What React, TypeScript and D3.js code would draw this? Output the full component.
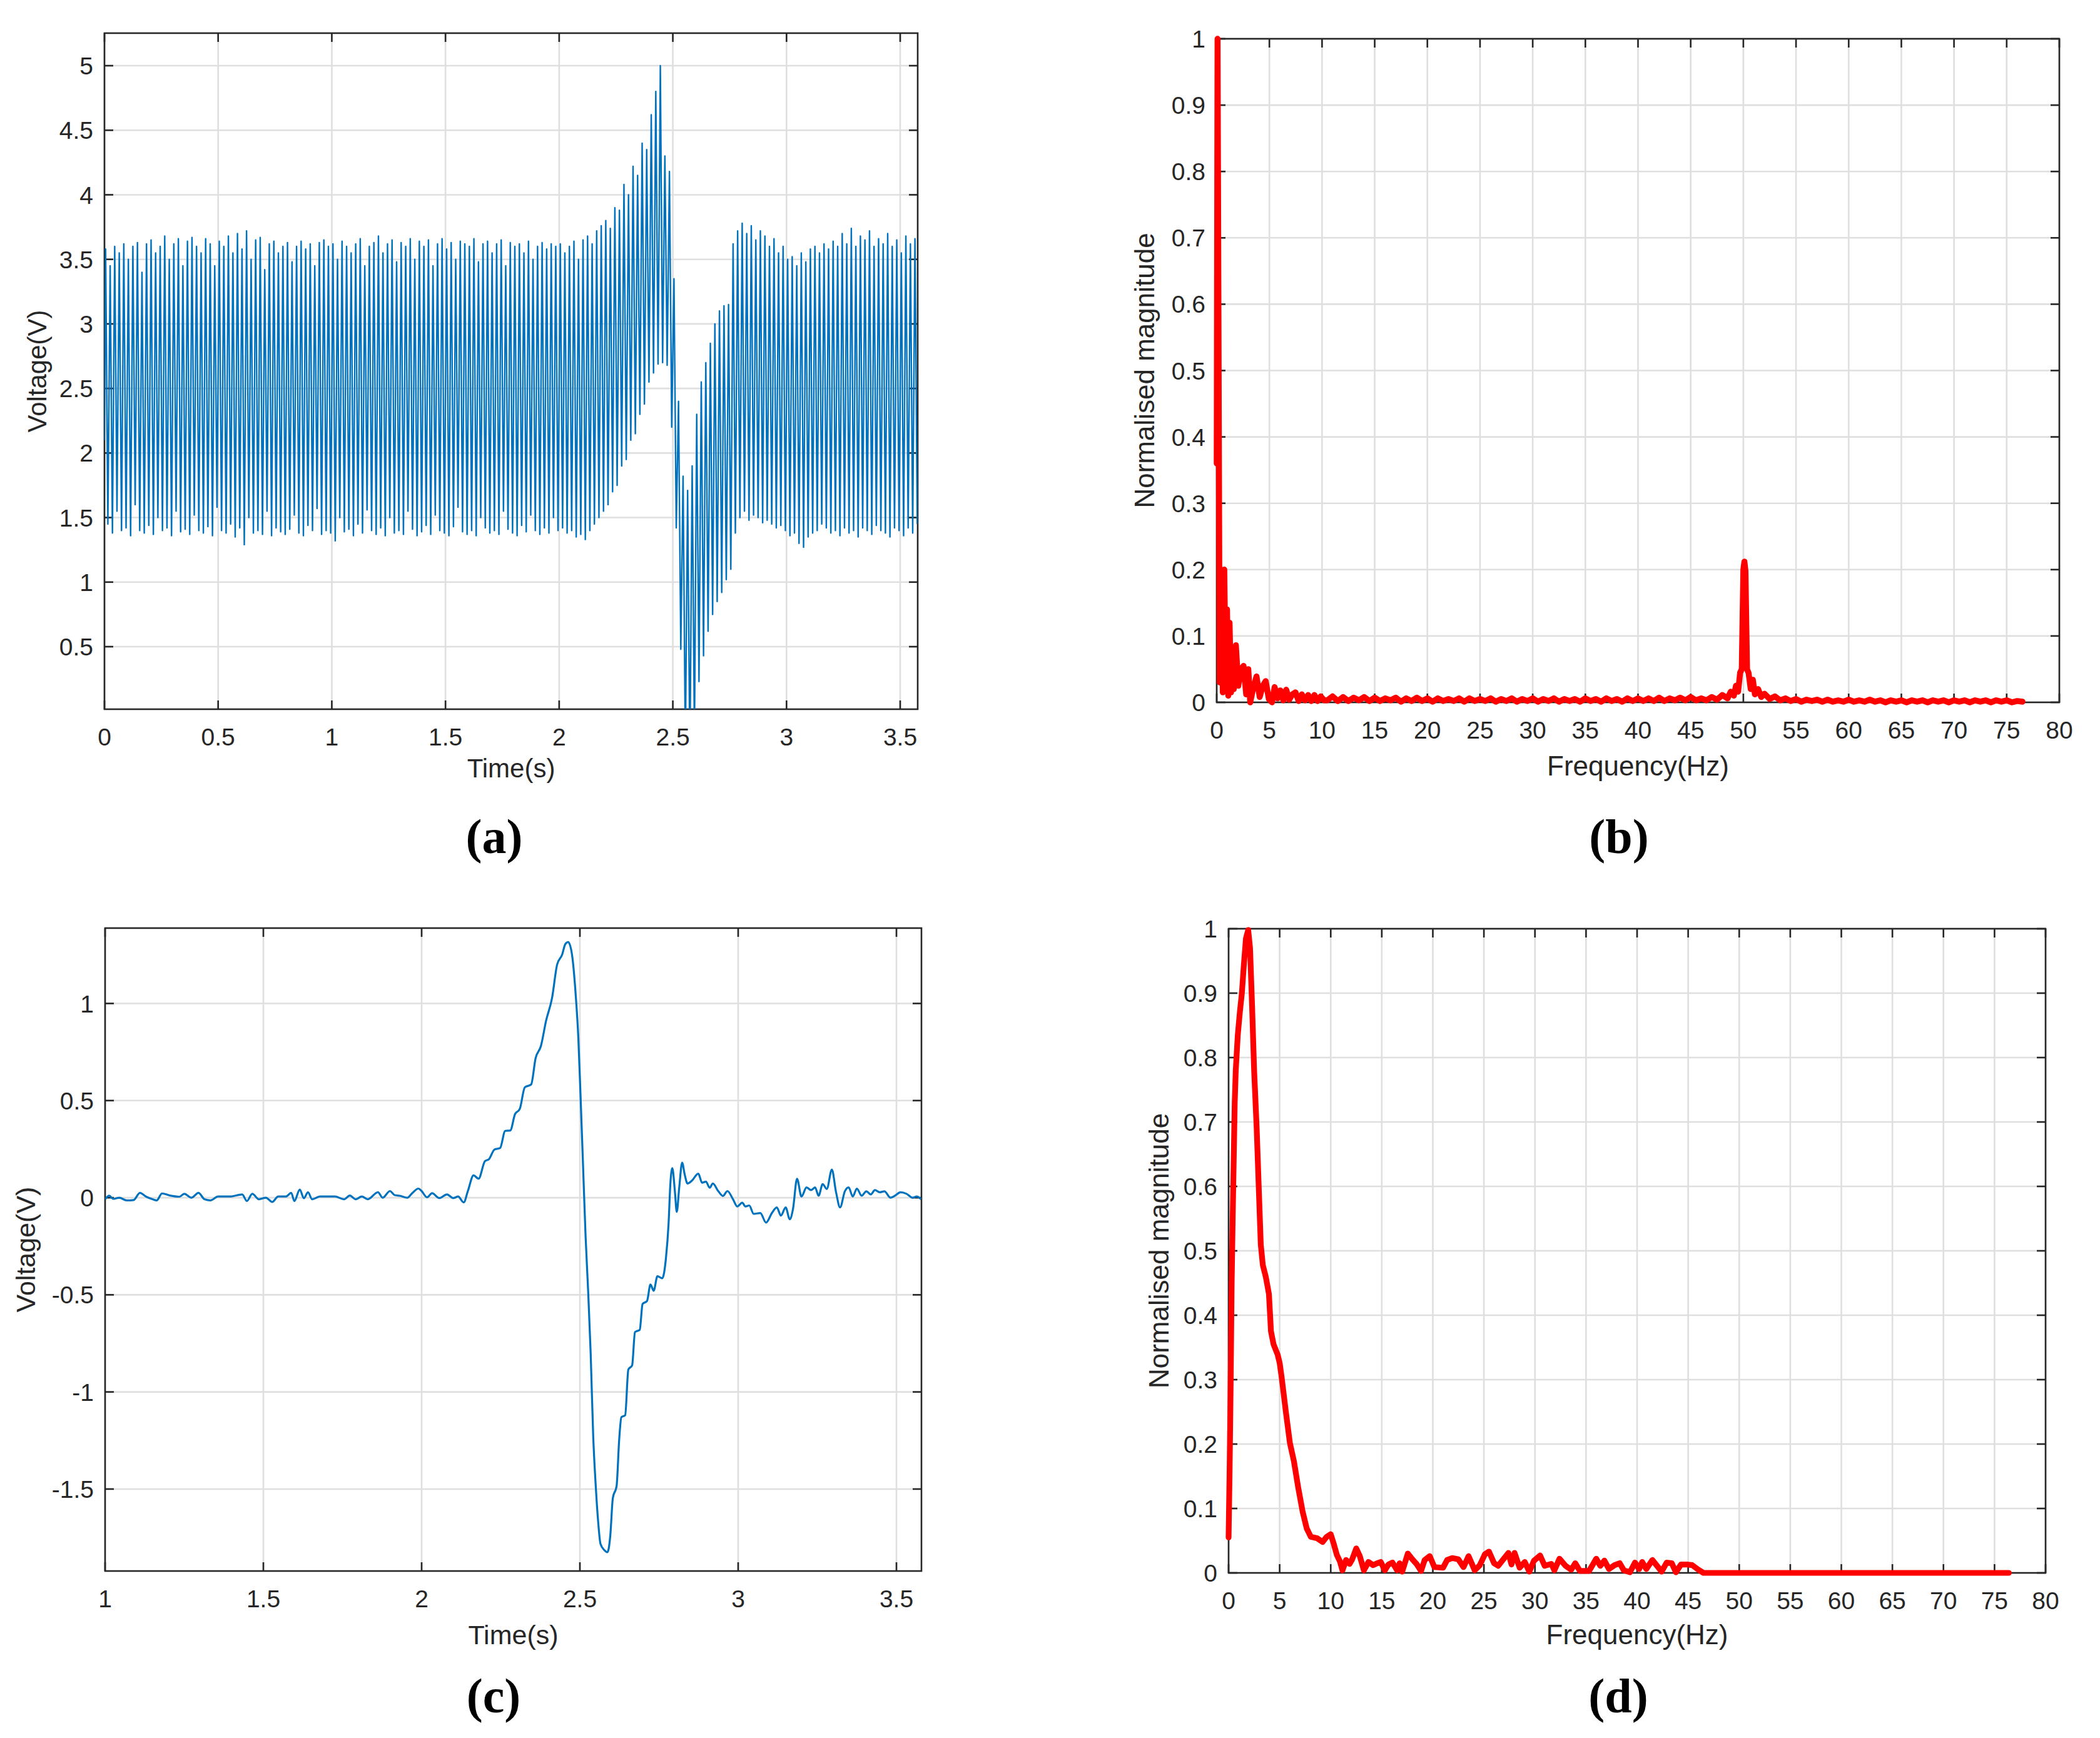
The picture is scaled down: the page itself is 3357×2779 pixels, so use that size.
import React from 'react';
import * as d3 from 'd3';

const W = 3357;
const H = 2779;
const FONT = '"Liberation Sans", Arial, Helvetica, sans-serif';
const SERIF = '"Liberation Serif", "Times New Roman", serif';
const INK = '#262626';
const GRID = '#dfdfdf';
const BLUE = '#0072bd';
const RED = '#ff0000';

// (a) raw signal, read as one peak and one trough per 50 Hz cycle
const aPeriod = 0.02;
const aStart = 2.1;
const aUpper = [
  3.58, 3.45, 3.6, 3.55, 3.62, 3.5, 3.6, 3.63, 3.4, 3.62,
  3.65, 3.55, 3.6, 3.68, 3.5, 3.62, 3.66, 3.45, 3.64, 3.67,
  3.6, 3.55, 3.66, 3.62, 3.45, 3.64, 3.6, 3.68, 3.55, 3.7,
  3.58, 3.72, 3.5, 3.65, 3.67, 3.42, 3.62, 3.64, 3.55, 3.6,
  3.63, 3.48, 3.6, 3.64, 3.58, 3.62, 3.45, 3.63, 3.65, 3.6,
  3.62, 3.5, 3.64, 3.6, 3.55, 3.62, 3.66, 3.45, 3.6, 3.63,
  3.68, 3.55, 3.62, 3.65, 3.48, 3.63, 3.6, 3.66, 3.5, 3.64,
  3.6, 3.65, 3.45, 3.62, 3.66, 3.58, 3.63, 3.5, 3.64, 3.62,
  3.6, 3.66, 3.48, 3.62, 3.64, 3.55, 3.62, 3.65, 3.45, 3.63,
  3.6, 3.62, 3.55, 3.64, 3.5, 3.6, 3.63, 3.58, 3.62, 3.6,
  3.62, 3.55, 3.6, 3.64, 3.5, 3.65, 3.68, 3.62, 3.72, 3.76,
  3.8, 3.74, 3.9, 3.88, 4.08, 4.0, 4.22, 4.15, 4.4, 4.35,
  4.62, 4.8, 5.0, 4.3, 4.18, 3.35, 2.4, 1.82, 1.71, 1.9,
  2.3, 2.55, 2.7, 2.85, 3.0, 3.1, 3.14, 3.15, 3.62, 3.72,
  3.78, 3.7, 3.76, 3.65, 3.72, 3.68, 3.6, 3.66, 3.55, 3.6,
  3.5, 3.52, 3.45, 3.55, 3.48, 3.58, 3.6, 3.55, 3.62, 3.58,
  3.64, 3.6, 3.7, 3.62, 3.74, 3.6, 3.68, 3.65, 3.72, 3.6,
  3.66, 3.62, 3.7, 3.6, 3.65, 3.55, 3.68, 3.62, 3.66,
];
const aLower = [
  1.45, 1.38, 1.55, 1.4, 1.42, 1.36, 1.6, 1.4, 1.38, 1.44,
  1.37, 1.5, 1.4, 1.42, 1.36, 1.55, 1.39, 1.41, 1.37, 1.52,
  1.4, 1.38, 1.43, 1.36, 1.58, 1.4, 1.38, 1.45, 1.35, 1.42,
  1.29, 1.5, 1.38, 1.4, 1.37, 1.55, 1.36, 1.42, 1.39, 1.37,
  1.41, 1.52, 1.38, 1.36, 1.44, 1.4, 1.57, 1.37, 1.4, 1.38,
  1.32, 1.5, 1.39, 1.41, 1.36, 1.45, 1.38, 1.56, 1.4, 1.37,
  1.42, 1.36, 1.5, 1.38, 1.4, 1.37, 1.55, 1.41, 1.36, 1.39,
  1.44, 1.37, 1.52, 1.4, 1.38, 1.36, 1.43, 1.58, 1.39, 1.37,
  1.4, 1.36, 1.5, 1.42, 1.38, 1.4, 1.37, 1.55, 1.41, 1.38,
  1.36, 1.44, 1.39, 1.52, 1.4, 1.37, 1.42, 1.38, 1.5, 1.4,
  1.42, 1.38, 1.4, 1.35, 1.37, 1.33, 1.4, 1.45, 1.5, 1.55,
  1.6, 1.7, 1.75, 1.9, 1.95, 2.1, 2.15, 2.3, 2.38, 2.55,
  2.62, 2.69, 2.7, 2.68, 2.2, 1.42, 0.48, -0.3, -0.4, -0.2,
  0.23, 0.43, 0.62, 0.75, 0.85, 0.92, 1.02, 1.1, 1.38, 1.5,
  1.55, 1.48, 1.52, 1.5, 1.46, 1.48, 1.45, 1.42, 1.44, 1.4,
  1.36, 1.38, 1.3, 1.27, 1.35, 1.38, 1.4, 1.45, 1.42, 1.38,
  1.4, 1.36, 1.42, 1.38, 1.4, 1.35, 1.42, 1.4, 1.37, 1.44,
  1.4, 1.38, 1.35, 1.42, 1.4, 1.36, 1.42, 1.38, 1.45,
];

// (c) filtered signal [time s, voltage V]
const cPoints = [
  [1.0, -0.008], [1.013, 0.01], [1.026, -0.006], [1.045, 0.0], [1.068, -0.014], [1.09, -0.012],
  [1.11, 0.025], [1.13, 0.005], [1.15, -0.008], [1.163, -0.014], [1.18, 0.022], [1.205, 0.011],
  [1.235, 0.005], [1.25, 0.02], [1.273, 0.0], [1.295, 0.025], [1.314, -0.008], [1.333, -0.014],
  [1.357, 0.006], [1.395, 0.006], [1.433, 0.017], [1.448, -0.017], [1.465, 0.02], [1.486, -0.008],
  [1.508, 0.0], [1.528, -0.022], [1.547, 0.006], [1.571, 0.006], [1.588, 0.025], [1.598, -0.017],
  [1.615, 0.042], [1.628, -0.003], [1.641, 0.028], [1.654, -0.008], [1.679, 0.006], [1.726, 0.006],
  [1.755, -0.008], [1.773, 0.011], [1.792, -0.008], [1.811, 0.006], [1.83, -0.008], [1.862, 0.028],
  [1.877, 0.0], [1.9, 0.034], [1.915, 0.013], [1.931, 0.01], [1.955, 0.0], [1.97, 0.023],
  [1.99, 0.047], [2.0, 0.034], [2.017, 0.002], [2.033, 0.023], [2.056, -0.002], [2.08, 0.017],
  [2.1, -0.002], [2.115, 0.006], [2.133, -0.024], [2.146, 0.034], [2.164, 0.115], [2.18, 0.098],
  [2.2, 0.188], [2.213, 0.199], [2.23, 0.248], [2.248, 0.256], [2.264, 0.344], [2.28, 0.346],
  [2.295, 0.43], [2.31, 0.457], [2.326, 0.568], [2.346, 0.583], [2.36, 0.718], [2.377, 0.782],
  [2.393, 0.91], [2.412, 1.028], [2.428, 1.2], [2.444, 1.252], [2.454, 1.306], [2.463, 1.316],
  [2.475, 1.252], [2.487, 1.038], [2.495, 0.825], [2.502, 0.526], [2.51, 0.162], [2.518, -0.2],
  [2.526, -0.479], [2.534, -0.8], [2.542, -1.226], [2.55, -1.483], [2.558, -1.675], [2.565, -1.782],
  [2.577, -1.814], [2.587, -1.825], [2.596, -1.74], [2.604, -1.547], [2.616, -1.483], [2.624, -1.248],
  [2.631, -1.13], [2.643, -1.12], [2.653, -0.885], [2.665, -0.863], [2.674, -0.692], [2.689, -0.68],
  [2.698, -0.547], [2.712, -0.532], [2.723, -0.447], [2.733, -0.479], [2.745, -0.404], [2.76, -0.415],
  [2.772, -0.308], [2.78, -0.137], [2.786, 0.077], [2.792, 0.152], [2.8, 0.034], [2.806, -0.073],
  [2.814, 0.056], [2.823, 0.18], [2.831, 0.12], [2.84, 0.073], [2.854, 0.088], [2.874, 0.124],
  [2.886, 0.077], [2.898, 0.083], [2.91, 0.051], [2.92, 0.073], [2.937, 0.034], [2.952, 0.009],
  [2.966, 0.034], [2.984, -0.009], [2.997, -0.045], [3.013, -0.026], [3.023, -0.045], [3.035, -0.04],
  [3.049, -0.083], [3.07, -0.079], [3.088, -0.128], [3.107, -0.078], [3.122, -0.05], [3.135, -0.092],
  [3.15, -0.05], [3.163, -0.111], [3.173, -0.06], [3.186, 0.097], [3.2, 0.006], [3.216, 0.053],
  [3.23, 0.039], [3.243, 0.053], [3.254, 0.01], [3.267, 0.07], [3.28, 0.045], [3.296, 0.145],
  [3.309, 0.03], [3.322, -0.05], [3.337, 0.033], [3.349, 0.053], [3.362, 0.006], [3.375, 0.047],
  [3.39, 0.01], [3.405, 0.033], [3.419, 0.017], [3.432, 0.039], [3.447, 0.028], [3.462, 0.033],
  [3.481, 0.0], [3.496, 0.011], [3.513, 0.028], [3.532, 0.02], [3.551, 0.0], [3.564, 0.006],
  [3.578, -0.008],
];

// (b) spectrum of raw signal
const bLow = [
  [0, 0.36], [0.08, 1.0], [0.16, 0.62], [0.28, 0.03], [0.42, 0.2], [0.58, 0.015], [0.72, 0.2],
  [0.86, 0.02], [0.98, 0.14], [1.1, 0.01], [1.22, 0.12], [1.36, 0.015], [1.5, 0.07], [1.62, 0.02],
  [1.82, 0.086], [2.05, 0.025], [2.3, 0.05], [2.55, 0.055], [2.8, 0.012], [3.0, 0.05], [3.18, 0.0],
  [3.45, 0.02], [3.78, 0.039], [4.08, 0.008], [4.38, 0.025], [4.65, 0.032], [4.95, 0.005],
  [5.25, 0.0], [5.5, 0.023], [5.78, 0.006], [6.05, 0.018], [6.33, 0.003], [6.6, 0.019],
  [6.88, 0.004], [7.18, 0.012], [7.48, 0.015], [7.78, 0.002], [8.08, 0.012], [8.38, 0.003],
  [8.68, 0.011], [8.98, 0.002], [9.28, 0.011], [9.58, 0.002], [9.88, 0.009], [10.2, 0.003],
];
const bStep = 0.5;
const bMidStart = 10.5;
const bMid = [
  0.003, 0.009, 0.002, 0.008, 0.002, 0.007, 0.003, 0.008, 0.002, 0.007,
  0.002, 0.006, 0.003, 0.007, 0.001, 0.006, 0.002, 0.007, 0.002, 0.006,
  0.001, 0.006, 0.002, 0.005, 0.002, 0.006, 0.001, 0.006, 0.002, 0.005,
  0.002, 0.006, 0.001, 0.005, 0.002, 0.006, 0.001, 0.005, 0.002, 0.006,
  0.001, 0.005, 0.002, 0.006, 0.001, 0.005, 0.002, 0.005, 0.001, 0.006,
  0.002, 0.005, 0.001, 0.006, 0.002, 0.005, 0.001, 0.006, 0.002, 0.006,
  0.002, 0.006, 0.002, 0.007, 0.002, 0.006, 0.003, 0.007, 0.003, 0.008, 0.003,
];
const bPeak = [
  [46.0, 0.006], [46.5, 0.003], [47.0, 0.008], [47.5, 0.004], [48.0, 0.011], [48.5, 0.006],
  [48.8, 0.016], [49.1, 0.01], [49.3, 0.025], [49.5, 0.016], [49.7, 0.045], [49.85, 0.05],
  [50.0, 0.2], [50.1, 0.212], [50.2, 0.198], [50.35, 0.05], [50.5, 0.044], [50.7, 0.02],
  [50.9, 0.034], [51.1, 0.012], [51.4, 0.02], [51.7, 0.008], [52.0, 0.013], [52.5, 0.005],
  [53.0, 0.009], [53.5, 0.003], [54.0, 0.006],
];
const bHighStart = 54.5;
const bHigh = [
  0.002, 0.005, 0.001, 0.004, 0.002, 0.004, 0.001, 0.004, 0.001, 0.003,
  0.001, 0.004, 0.001, 0.003, 0.001, 0.004, 0.001, 0.003, 0.0, 0.003,
  0.001, 0.003, 0.0, 0.003, 0.001, 0.003, 0.0, 0.003, 0.001, 0.003,
  0.0, 0.003, 0.001, 0.003, 0.0, 0.003, 0.001, 0.003, 0.0, 0.003,
  0.001, 0.003, 0.0, 0.002, 0.001,
];

// (d) spectrum of filtered signal
const dPoints = [
  [0.0, 0.055], [0.1, 0.16], [0.2, 0.29], [0.3, 0.45], [0.4, 0.55], [0.5, 0.64], [0.6, 0.73],
  [0.7, 0.78], [0.9, 0.835], [1.1, 0.87], [1.3, 0.9], [1.5, 0.945], [1.7, 0.985], [1.92, 0.998],
  [2.1, 0.97], [2.3, 0.88], [2.5, 0.78], [2.75, 0.69], [2.95, 0.6], [3.15, 0.51], [3.35, 0.478],
  [3.65, 0.459], [3.95, 0.433], [4.15, 0.375], [4.4, 0.355], [4.8, 0.339], [5.0, 0.326],
  [5.2, 0.303], [5.6, 0.251], [6.0, 0.202], [6.4, 0.173], [6.8, 0.134], [7.25, 0.095],
  [7.65, 0.069], [8.05, 0.056], [8.65, 0.054], [9.2, 0.048], [9.6, 0.056], [10.0, 0.06],
  [10.3, 0.045], [10.6, 0.028], [10.9, 0.018], [11.15, 0.004], [11.5, 0.02], [11.85, 0.014],
  [12.1, 0.021], [12.5, 0.038], [12.85, 0.026], [13.25, 0.004], [13.7, 0.017], [14.15, 0.012],
  [14.55, 0.015], [14.9, 0.017], [15.3, 0.004], [15.65, 0.013], [16.05, 0.016], [16.5, 0.004],
  [16.75, 0.015], [17.0, 0.002], [17.55, 0.03], [18.0, 0.021], [18.4, 0.014], [18.85, 0.003],
  [19.2, 0.02], [19.7, 0.026], [20.15, 0.009], [21.0, 0.008], [21.4, 0.02], [21.9, 0.023],
  [22.5, 0.021], [23.0, 0.009], [23.5, 0.026], [24.1, 0.004], [24.6, 0.012], [25.1, 0.029],
  [25.5, 0.033], [26.0, 0.015], [26.4, 0.011], [26.85, 0.02], [27.4, 0.031], [27.7, 0.013],
  [28.0, 0.031], [28.5, 0.008], [29.0, 0.017], [29.45, 0.002], [29.9, 0.019], [30.5, 0.027],
  [30.95, 0.011], [31.6, 0.014], [31.9, 0.004], [32.4, 0.022], [33.0, 0.011], [33.55, 0.005],
  [33.95, 0.015], [34.4, 0.003], [35.3, 0.003], [36.0, 0.022], [36.4, 0.011], [36.8, 0.019],
  [37.25, 0.006], [37.8, 0.012], [38.3, 0.015], [38.7, 0.004], [39.3, 0.001], [39.8, 0.016],
  [40.2, 0.006], [40.5, 0.017], [40.9, 0.006], [41.5, 0.02], [41.9, 0.012], [42.4, 0.002],
  [42.9, 0.016], [43.4, 0.015], [43.8, 0.001], [44.3, 0.013], [44.9, 0.013], [45.4, 0.012],
  [46.0, 0.005], [46.5, 0.0], [76.4, 0.0],
];

const aXTicks = [0, 0.5, 1, 1.5, 2, 2.5, 3, 3.5];
const aYTicks = [0.5, 1, 1.5, 2, 2.5, 3, 3.5, 4, 4.5, 5];
const cXTicks = [1, 1.5, 2, 2.5, 3, 3.5];
const cYTicks = [-1.5, -1, -0.5, 0, 0.5, 1];
const fXTicks = [0, 5, 10, 15, 20, 25, 30, 35, 40, 45, 50, 55, 60, 65, 70, 75, 80];
const fYTicks = [0, 0.1, 0.2, 0.3, 0.4, 0.5, 0.6, 0.7, 0.8, 0.9, 1];

const fmt = (v) => String(+v.toFixed(2));

function Frame({ box, x, y, xTicks, yTicks, xLabel, yLabel, xLabelY, yLabelX, tickFont, labelFont }) {
  const tl = 14;
  const midX = (box.l + box.r) / 2;
  const midY = (box.t + box.b) / 2;
  return (
    <g>
      {xTicks.map((v) => (
        <line key={'gx' + v} x1={x(v)} x2={x(v)} y1={box.t} y2={box.b} stroke={GRID} strokeWidth={2.6} />
      ))}
      {yTicks.map((v) => (
        <line key={'gy' + v} x1={box.l} x2={box.r} y1={y(v)} y2={y(v)} stroke={GRID} strokeWidth={2.6} />
      ))}
      <rect x={box.l} y={box.t} width={box.r - box.l} height={box.b - box.t} fill="none" stroke={INK} strokeWidth={2.6} />
      {xTicks.map((v) => (
        <g key={'tx' + v} stroke={INK} strokeWidth={2.6}>
          <line x1={x(v)} x2={x(v)} y1={box.b} y2={box.b - tl} />
          <line x1={x(v)} x2={x(v)} y1={box.t} y2={box.t + tl} />
        </g>
      ))}
      {yTicks.map((v) => (
        <g key={'ty' + v} stroke={INK} strokeWidth={2.6}>
          <line x1={box.l} x2={box.l + tl} y1={y(v)} y2={y(v)} />
          <line x1={box.r} x2={box.r - tl} y1={y(v)} y2={y(v)} />
        </g>
      ))}
      <g fill={INK} fontFamily={FONT} fontSize={tickFont}>
        {xTicks.map((v) => (
          <text key={'lx' + v} x={x(v)} y={box.b + 58} textAnchor="middle">{fmt(v)}</text>
        ))}
        {yTicks.map((v) => (
          <text key={'ly' + v} x={box.l - 18} y={y(v)} dy="0.36em" textAnchor="end">{fmt(v)}</text>
        ))}
      </g>
      <text x={midX} y={xLabelY} textAnchor="middle" fill={INK} fontFamily={FONT} fontSize={labelFont}>{xLabel}</text>
      <text transform={`translate(${yLabelX},${midY}) rotate(-90)`} textAnchor="middle" fill={INK} fontFamily={FONT} fontSize={labelFont}>{yLabel}</text>
    </g>
  );
}

function PanelTag({ x, y, text }) {
  return (
    <text x={x} y={y} textAnchor="middle" fontFamily={SERIF} fontWeight="bold" fontSize={78} fill="#000">{text}</text>
  );
}

export default function App() {
  // (a)
  const boxA = { l: 167, t: 53, r: 1467, b: 1134 };
  const xA = d3.scaleLinear().domain([0, 3.577]).range([boxA.l, boxA.r]);
  const yA = d3.scaleLinear().domain([0.0156, 5.252]).range([boxA.b, boxA.t]);
  const aPts = [[0, aStart]];
  aUpper.forEach((u, i) => {
    aPts.push([i * aPeriod + 0.005, u]);
    aPts.push([i * aPeriod + 0.015, aLower[i]]);
  });
  const lineA = d3.line().x((d) => xA(d[0])).y((d) => yA(d[1]));

  // (b)
  const boxB = { l: 1945, t: 62, r: 3292, b: 1123 };
  const xB = d3.scaleLinear().domain([0, 80]).range([boxB.l, boxB.r]);
  const yB = d3.scaleLinear().domain([0, 1]).range([boxB.b, boxB.t]);
  const bPts = [
    ...bLow,
    ...bMid.map((v, i) => [bMidStart + i * bStep, v]),
    ...bPeak,
    ...bHigh.map((v, i) => [bHighStart + i * bStep, v]),
  ];
  const lineB = d3.line().x((d) => xB(d[0])).y((d) => yB(d[1]));

  // (c)
  const boxC = { l: 168, t: 1484, r: 1473, b: 2512 };
  const xC = d3.scaleLinear().domain([1, 3.579]).range([boxC.l, boxC.r]);
  const yC = d3.scaleLinear().domain([-1.922, 1.388]).range([boxC.b, boxC.t]);
  const lineC = d3.line().x((d) => xC(d[0])).y((d) => yC(d[1])).curve(d3.curveMonotoneX);

  // (d)
  const boxD = { l: 1964, t: 1485, r: 3270, b: 2515 };
  const xD = d3.scaleLinear().domain([0, 80]).range([boxD.l, boxD.r]);
  const yD = d3.scaleLinear().domain([0, 1]).range([boxD.b, boxD.t]);
  const lineD = d3.line().x((d) => xD(d[0])).y((d) => yD(d[1]));

  return (
    <svg width={W} height={H} viewBox={`0 0 ${W} ${H}`} style={{ position: 'absolute', left: 0, top: 0, background: '#fff' }}>
      <rect width={W} height={H} fill="#fff" />
      <defs>
        <clipPath id="clipA">
          <rect x={boxA.l} y={boxA.t} width={boxA.r - boxA.l} height={boxA.b - boxA.t} />
        </clipPath>
        <clipPath id="clipC">
          <rect x={boxC.l} y={boxC.t} width={boxC.r - boxC.l} height={boxC.b - boxC.t} />
        </clipPath>
      </defs>

      <Frame box={boxA} x={xA} y={yA} xTicks={aXTicks} yTicks={aYTicks} xLabel="Time(s)" yLabel="Voltage(V)"
        xLabelY={1243} yLabelX={74} tickFont={39} labelFont={42} />
      <path d={lineA(aPts)} fill="none" stroke={BLUE} strokeWidth={2.4} strokeLinejoin="round" clipPath="url(#clipA)" />
      <PanelTag x={790} y={1364} text="(a)" />

      <Frame box={boxB} x={xB} y={yB} xTicks={fXTicks} yTicks={fYTicks} xLabel="Frequency(Hz)" yLabel="Normalised magnitude"
        xLabelY={1240} yLabelX={1845} tickFont={39} labelFont={44} />
      <path d={lineB(bPts)} fill="none" stroke={RED} strokeWidth={9.5} strokeLinejoin="round" strokeLinecap="round" />
      <PanelTag x={2588} y={1364} text="(b)" />

      <Frame box={boxC} x={xC} y={yC} xTicks={cXTicks} yTicks={cYTicks} xLabel="Time(s)" yLabel="Voltage(V)"
        xLabelY={2629} yLabelX={56} tickFont={39} labelFont={43} />
      <path d={lineC(cPoints)} fill="none" stroke={BLUE} strokeWidth={3.2} strokeLinejoin="round" clipPath="url(#clipC)" />
      <PanelTag x={789} y={2738} text="(c)" />

      <Frame box={boxD} x={xD} y={yD} xTicks={fXTicks} yTicks={fYTicks} xLabel="Frequency(Hz)" yLabel="Normalised magnitude"
        xLabelY={2629} yLabelX={1868} tickFont={39} labelFont={44} />
      <path d={lineD(dPoints)} fill="none" stroke={RED} strokeWidth={9.2} strokeLinejoin="round" strokeLinecap="round" />
      <PanelTag x={2587} y={2738} text="(d)" />
    </svg>
  );
}
